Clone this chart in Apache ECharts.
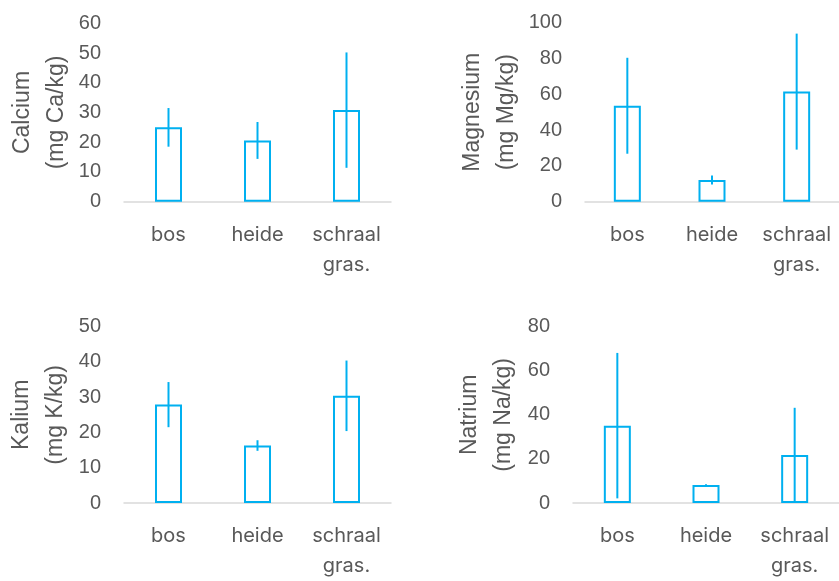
<!DOCTYPE html>
<html>
<head>
<meta charset="utf-8">
<script src="https://cdn.jsdelivr.net/npm/echarts@6/dist/echarts.min.js"></script>
<style>
html,body{margin:0;padding:0;background:#fff;}
#main{width:839px;height:581px;}
</style>
</head>
<body>
<div id="main"></div>
<script>
const categories = ['bos', 'heide', 'schraal\ngras.'];
const calcium = [25.0, 20.6, 30.8];
const calciumErr = [6.5, 6.2, 19.4];
const magnesium = [53.6, 12.1, 61.5];
const magnesiumErr = [26.8, 2.5, 32.4];
const kalium = [27.9, 16.3, 30.4];
const kaliumErr = [6.4, 1.5, 10.0];
const natrium = [35.1, 8.2, 21.8];
const natriumErr = [33.0, 0.3, 21.4];

const yNames = ['Calcium\n(mg Ca/kg)', 'Magnesium\n(mg Mg/kg)', 'Kalium\n(mg K/kg)', 'Natrium\n(mg Na/kg)'];
const yMax = [60, 100, 50, 80];
const yInterval = [10, 20, 10, 20];
const values = [calcium, magnesium, kalium, natrium];
const errors = [calciumErr, magnesiumErr, kaliumErr, natriumErr];

const BLUE = '#00B0F0';
const TEXT = '#595959';
const ARIAL = '"Liberation Sans", Arial, sans-serif';
const XFONT = 'Inter, "Open Sans", sans-serif';

const grids = [
  {left: 124, top: 23.3, width: 267, height: 178.4},
  {left: 585, top: 22.7, width: 258, height: 179},
  {left: 124, top: 326.7, width: 267, height: 180.6},
  {left: 573, top: 326.7, width: 271, height: 180.6}
];
const nameGaps = [50, 61, 51, 52];

const option = {
  animation: false,
  textStyle: {fontFamily: ARIAL},
  grid: grids,
  xAxis: grids.map((g, i) => ({
    type: 'category', gridIndex: i, data: categories,
    axisLine: {show: true, lineStyle: {color: '#D9D9D9', width: 1.5}},
    axisTick: {show: false},
    axisLabel: {color: TEXT, fontSize: 20, fontFamily: XFONT, margin: 18, lineHeight: 30, interval: 0}
  })),
  yAxis: grids.map((g, i) => ({
    type: 'value', gridIndex: i, min: 0, max: yMax[i], interval: yInterval[i],
    name: yNames[i], nameLocation: 'middle', nameRotate: 90, nameGap: nameGaps[i],
    nameTextStyle: {color: TEXT, fontSize: 23, fontFamily: ARIAL, lineHeight: 34},
    axisLine: {show: false}, axisTick: {show: false},
    splitLine: {show: false},
    axisLabel: {color: TEXT, fontSize: 20, fontFamily: ARIAL, margin: 23}
  })),
  series: []
};

values.forEach((vals, i) => {
  option.series.push({
    type: 'bar', xAxisIndex: i, yAxisIndex: i, data: vals, barWidth: 27,
    itemStyle: {color: '#fff', borderColor: BLUE, borderWidth: 2}
  });
  const errData = vals.map((v, j) => [j, v - errors[i][j], v + errors[i][j]]);
  option.series.push({
    type: 'custom', xAxisIndex: i, yAxisIndex: i, data: errData,
    renderItem: function (params, api) {
      const x = api.value(0);
      const lo = api.coord([x, Math.max(0, api.value(1))]);
      const hi = api.coord([x, api.value(2)]);
      return {
        type: 'line',
        shape: {x1: lo[0], y1: lo[1], x2: hi[0], y2: hi[1]},
        style: {stroke: BLUE, lineWidth: 2}
      };
    },
    encode: {x: 0, y: [1, 2]},
    z: 5
  });
});

const chart = echarts.init(document.getElementById('main'));
chart.setOption(option);
</script>
</body>
</html>
